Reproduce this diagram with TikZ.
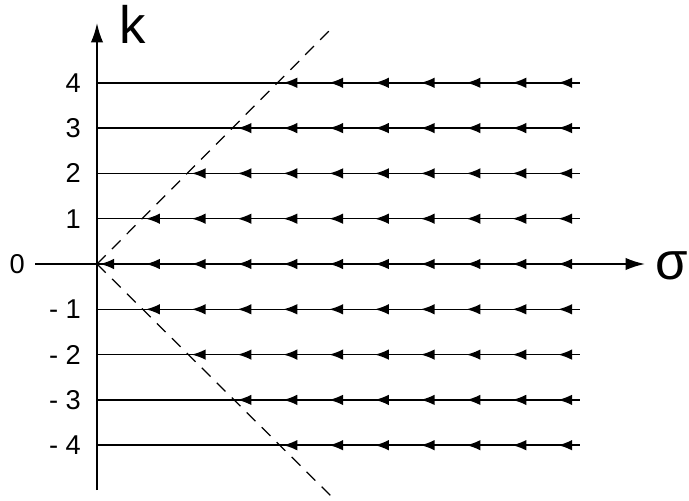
\documentclass[tikz,border=0pt]{standalone}
\usepackage{fontspec}
\setmainfont{Liberation Sans}
\usetikzlibrary{arrows.meta,positioning,calc}

\begin{document}
\begin{tikzpicture}[x=0.02cm,y=-0.02cm,>={Latex[length=11pt,width=7pt]},
  axis/.style={line width=1.1pt},
  flow/.style={line width=0.9pt},
  flowtip/.style={line width=0.9pt,-{Latex[length=8pt,width=6pt]}},
  sep/.style={line width=0.7pt,dash pattern=on 7pt off 5pt},
  tick/.style={font=\fontsize{15.5}{15.5}\selectfont,anchor=east,inner sep=1pt},
  big/.style={font=\fontsize{30}{30}\selectfont,inner sep=0pt}]
\useasboundingbox (0,0) rectangle (689,500);
\coordinate (O) at (97,264);
\coordinate (xl) at (35,264);
\coordinate (xr) at (645,264);
\coordinate (yb) at (97,490);
\coordinate (yt) at (97,23);
\coordinate (su) at (332,28);
\coordinate (sd) at (333,498);
% ---- rows of the flow ----
\foreach \k in {-4,...,4}{
  \coordinate (r\k) at (97,{264-45.3*\k});
  \ifnum\k=0\else\draw[flow] (r\k) -- ++(483,0);\fi
  \pgfmathtruncatemacro\m{abs(\k)}
  \foreach \n in {\m,...,10}
    \draw[flowtip] ($(r\k)+({3+45.8*\n+20},0)$) -- ++(-20,0);
}
\foreach \k/\lab in {4/4,3/3,2/2,1/1,-1/- 1,-2/- 2,-3/- 3,-4/- 4}
  \node[tick] (t\k) at ($(r\k)+(-14,0)$) {\lab};
\node[tick] (t0) at ($(xl)+(-8,0)$) {0};
% ---- axes and separatrices ----
\draw[axis,->] (xl) -- (xr);
\draw[axis,->] (yb) -- (yt);
\draw[sep] (O) -- (su);
\draw[sep] (O) -- (sd);
\node[big] (kl) at (133,24) {k};
\node[big,anchor=west] (sl) at (655,266) {σ};
\end{tikzpicture}
\end{document}
